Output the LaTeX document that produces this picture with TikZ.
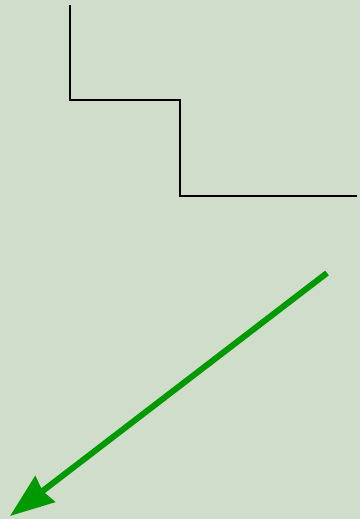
\documentclass[tikz,border=0pt]{standalone}
\usepackage{xcolor}
\usepackage{tikz}
\usetikzlibrary{arrows.meta}
\definecolor{paper}{HTML}{CFDDCA}
\definecolor{leaf}{HTML}{009A00}

\begin{document}
\begin{tikzpicture}[
  x=1pt, y=-1pt,
  stair/.style={draw=black, line width=2.2pt},
  pointer/.style={draw=leaf, line width=6pt,
                  -{Triangle[length=44pt, width=32pt, inset=3pt]}}
]

% ---- canvas -------------------------------------------------------------
\fill[paper] (0,0) rectangle (360,519);
\useasboundingbox (0,0) rectangle (360,519);

% ---- staircase ----------------------------------------------------------
\coordinate (s0) at (70,5);
\coordinate (s1) at (70,100);
\coordinate (s2) at (180,100);
\coordinate (s3) at (180,196);
\coordinate (s4) at (357,196);
\draw[stair] (s0) -- (s1) -- (s2) -- (s3) -- (s4);

% ---- arrow --------------------------------------------------------------
\coordinate (a0) at (327,273);
\coordinate (a1) at (10,516);
\draw[pointer] (a0) -- (a1);

\end{tikzpicture}
\end{document}
